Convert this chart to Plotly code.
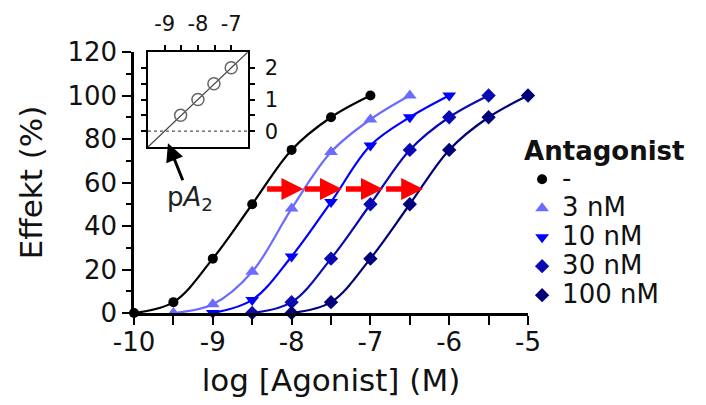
import plotly.graph_objects as go

# ---- data ----
log_ag_ctrl = [-10, -9.5, -9, -8.5, -8, -7.5, -7]
eff_ctrl = [0, 5, 25, 50, 75, 90, 100]
log_ag_3 = [-9.5, -9, -8.5, -8, -7.5, -7, -6.5]
eff_3 = [0, 4, 19, 48, 74, 89, 100]
log_ag_10 = [-9, -8.5, -8, -7.5, -7, -6.5, -6]
eff_10 = [0, 6, 26, 51, 77, 90, 100]
log_ag_30 = [-8.5, -8, -7.5, -7, -6.5, -6, -5.5]
eff_30 = [0, 5, 25, 50, 75, 90, 100]
log_ag_100 = [-8, -7.5, -7, -6.5, -6, -5.5, -5]
eff_100 = [0, 5, 25, 50, 75, 90, 100]

series_names = ["-", "3 nM", "10 nM", "30 nM", "100 nM"]

x_tickvals = [-10, -9, -8, -7, -6, -5]
x_ticktext = ["-10", "-9", "-8", "-7", "-6", "-5"]
y_tickvals = [0, 20, 40, 60, 80, 100, 120]

# shift arrows at the ~57 % level (start / end log[Agonist])
shift_level = 57
shift_start = [-8.33, -7.85, -7.33, -6.82]
shift_end = [-7.85, -7.36, -6.84, -6.33]

# Schild plot (inset)
schild_x = [-8.52, -8.0, -7.52, -7.0]
schild_y = [0.5, 1.0, 1.5, 2.0]
schild_fit_x = [-9.5, -6.5]
schild_fit_y = [-0.5, 2.5]
inset_xtickvals = [-9, -8, -7]
inset_xticktext = ["-9", "-8", "-7"]
inset_ytickvals = [0, 1, 2]

FONT = "DejaVu Sans"
colors = ["#000000", "#6b6bff", "#0000ff", "#0a0ab4", "#00007a"]
symbols = ["circle", "triangle-up", "triangle-down", "diamond", "diamond"]
sizes = [10, 12, 12, 11, 11]

xs = [log_ag_ctrl, log_ag_3, log_ag_10, log_ag_30, log_ag_100]
ys = [eff_ctrl, eff_3, eff_10, eff_30, eff_100]

fig = go.Figure()
for x, y, c in zip(xs, ys, colors):
    fig.add_trace(go.Scatter(x=x, y=y, mode="lines", line=dict(color=c, width=2.2, shape="spline"),
                             showlegend=False, cliponaxis=False, hoverinfo="skip"))
for x, y, c, s, sz, n in zip(xs, ys, colors, symbols, sizes, series_names):
    fig.add_trace(go.Scatter(x=x, y=y, mode="markers", name=f'<span style="font-size:26px">{n}</span>',
                             marker=dict(color=c, symbol=s, size=sz), cliponaxis=False))

# inset
fig.add_trace(go.Scatter(x=schild_fit_x, y=schild_fit_y, mode="lines", xaxis="x2", yaxis="y2",
                         line=dict(color="#444", width=1.2), showlegend=False, cliponaxis=False))
fig.add_trace(go.Scatter(x=schild_x, y=schild_y, mode="markers", xaxis="x2", yaxis="y2",
                         marker=dict(symbol="circle-open", size=12, color="#666", line=dict(width=1.5)),
                         showlegend=False))

fig.add_shape(type="line", xref="x2 domain", yref="y2", x0=0, x1=1, y0=0, y1=0,
              line=dict(color="#555", width=1.2, dash="dot"))

annotations = []
for s, e in zip(shift_start, shift_end):
    annotations.append(dict(x=e, y=shift_level, ax=s, ay=shift_level, xref="x", yref="y",
                            axref="x", ayref="y", text="", showarrow=True, arrowhead=2,
                            arrowsize=0.8, arrowwidth=5.5, arrowcolor="#ff0000", standoff=0))
annotations.append(dict(x=-8.9, y=-0.38, xref="x2", yref="y2", ax=22, ay=55,
                        text="p<i>A</i><sub>2</sub>", showarrow=True, arrowhead=2, arrowsize=1.2,
                        arrowwidth=3, arrowcolor="#000", font=dict(family=FONT, size=26, color="#222")))

axis_common = dict(showline=True, linecolor="#000", ticks="outside", tickcolor="#000",
                   showgrid=False, zeroline=False, automargin=False)

fig.update_layout(
    width=706, height=405,
    margin=dict(l=134, r=178, t=52, b=92, autoexpand=False),
    paper_bgcolor="white", plot_bgcolor="white",
    font=dict(family=FONT, size=26, color="#111"),
    xaxis=dict(range=[-10, -5], tickvals=x_tickvals, ticktext=x_ticktext, linewidth=2.5, ticklen=9,
               tickwidth=2, ticklabelstandoff=-5,
               minor=dict(dtick=0.5, tick0=-10, ticklen=9, tickwidth=2, ticks="outside", tickcolor="#000"),
               title=dict(text="log [Agonist] (M)", standoff=14), tickfont=dict(size=26),
               **axis_common),
    yaxis=dict(range=[0, 120], tickvals=y_tickvals, linewidth=2.5, ticklen=9, tickwidth=2,
               minor=dict(dtick=10, ticklen=5, tickwidth=2, ticks="outside", tickcolor="#000"),
               title=dict(text="Effekt (%)", standoff=16), tickfont=dict(size=26),
               **axis_common),
    xaxis2=dict(domain=[0.0355, 0.289], anchor="y2", side="top", range=[-9.5, -6.5],
                tickvals=inset_xtickvals, ticktext=inset_xticktext, ticklen=5, tickwidth=1.5,
                linewidth=1.5, mirror=True, ticklabelstandoff=6,
                minor=dict(tickvals=[-8.5, -7.5], ticklen=5, tickwidth=1.5, ticks="outside", tickcolor="#000"),
                tickfont=dict(size=21), **axis_common),
    yaxis2=dict(domain=[0.636, 1.0], anchor="x2", side="right", range=[-0.5, 2.5],
                tickvals=inset_ytickvals, ticklen=5, tickwidth=1.5, linewidth=1.5, mirror="ticks",
                ticklabelstandoff=6,
                minor=dict(tickvals=[0.5, 1.5], ticklen=5, tickwidth=1.5, ticks="outside", tickcolor="#000"),
                tickfont=dict(size=21), **axis_common),
    legend=dict(x=0.985, xanchor="left", y=0.717, yanchor="top", bgcolor="rgba(0,0,0,0)",
                font=dict(family=FONT, size=20, color="#111"),
                title=dict(text="Antagonist", font=dict(family=FONT, size=26, weight="bold", color="#111"))),
    annotations=annotations,
    showlegend=True,
)

fig.write_html("out.html")
